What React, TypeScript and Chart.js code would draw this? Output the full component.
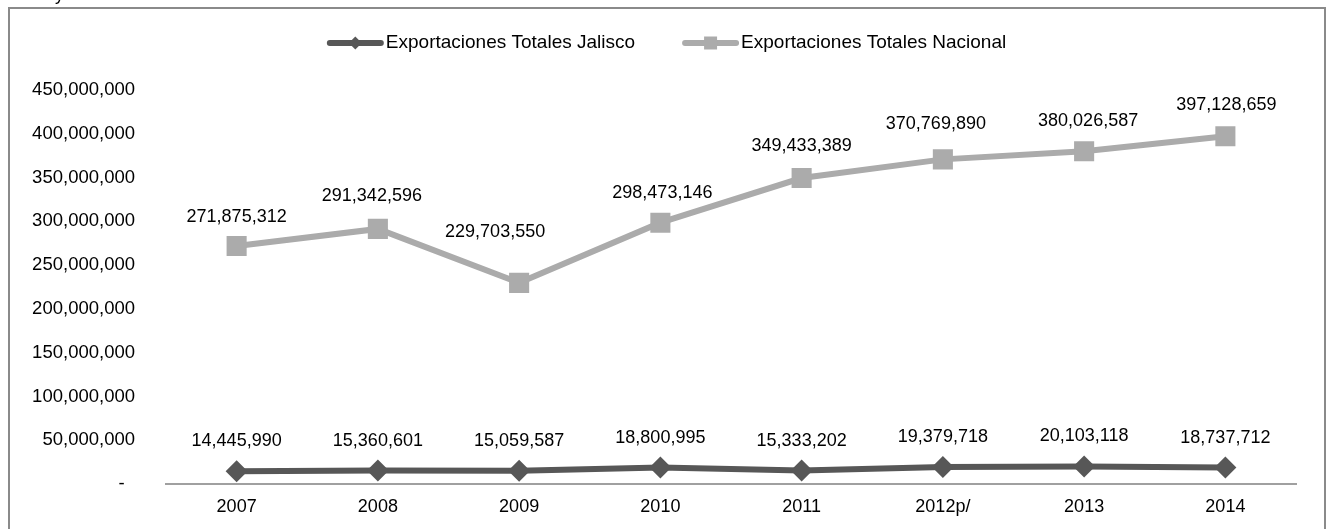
import React, { useEffect, useRef } from 'react';
import { Chart, registerables } from 'chart.js';

Chart.register(...registerables);

const categories = ['2007', '2008', '2009', '2010', '2011', '2012p/', '2013', '2014'];
const jalisco = [14445990, 15360601, 15059587, 18800995, 15333202, 19379718, 20103118, 18737712];
const nacional = [271875312, 291342596, 229703550, 298473146, 349433389, 370769890, 380026587, 397128659];
const seriesNames = ['Exportaciones Totales Jalisco', 'Exportaciones Totales Nacional'];
const yMin = 0;
const yMax = 450000000;
const yStep = 50000000;
const zeroTickLabel = '-';

// label placement tweaks (pixels)
const nacionalLabelDx = [0, -6, -24, 2, 0, -7, 4, 1];
const nacionalLabelDy = [-29, -33, -51, -30, -32, -35, -30, -31];
const jaliscoLabelDy = -30;

const FONT = "'Liberation Sans', Arial, sans-serif";
const DARK = '#575757';
const LIGHT = '#ABABAB';

const fmt = (v: number) => v.toLocaleString('en-US');

const dataLabelPlugin = {
  id: 'dataLabels',
  afterDatasetsDraw(chart: any) {
    const ctx = chart.ctx;
    ctx.save();
    ctx.font = `18px ${FONT}`;
    ctx.fillStyle = '#000';
    ctx.textAlign = 'center';
    ctx.textBaseline = 'middle';
    chart.data.datasets.forEach((ds: any, di: number) => {
      const meta = chart.getDatasetMeta(di);
      meta.data.forEach((pt: any, i: number) => {
        const v = ds.data[i] as number;
        let dx = 0;
        let dy = jaliscoLabelDy;
        if (di === 1) {
          dx = nacionalLabelDx[i];
          dy = nacionalLabelDy[i];
        }
        ctx.fillText(fmt(v), pt.x + dx, pt.y + dy);
      });
    });
    ctx.restore();
  },
};

const legendPlugin = {
  id: 'customLegend',
  afterDraw(chart: any) {
    const ctx = chart.ctx;
    ctx.save();
    ctx.font = `19px ${FONT}`;
    const lineLen = 55;
    const gap = 3;
    const itemGap = 48;
    const widths = seriesNames.map((n) => ctx.measureText(n).width);
    const total = widths.reduce((a, w) => a + lineLen + gap + w, 0) + itemGap * (seriesNames.length - 1);
    let x = chart.width / 2 - total / 2;
    const y = 34;
    chart.data.datasets.forEach((ds: any, i: number) => {
      ctx.strokeStyle = ds.borderColor;
      ctx.lineWidth = 6;
      ctx.lineCap = 'round';
      ctx.beginPath();
      ctx.moveTo(x + 2, y);
      ctx.lineTo(x + lineLen - 2, y);
      ctx.stroke();
      ctx.fillStyle = ds.borderColor;
      const cx = x + lineLen / 2;
      ctx.beginPath();
      if (i === 0) {
        const r = 6.5;
        ctx.moveTo(cx - r, y);
        ctx.lineTo(cx, y - r);
        ctx.lineTo(cx + r, y);
        ctx.lineTo(cx, y + r);
        ctx.closePath();
      } else {
        const s = 6.5;
        ctx.rect(cx - s, y - s, 2 * s, 2 * s);
      }
      ctx.fill();
      ctx.fillStyle = '#000';
      ctx.textAlign = 'left';
      ctx.textBaseline = 'middle';
      ctx.fillText(seriesNames[i], x + lineLen + gap, y);
      x += lineLen + gap + widths[i] + itemGap;
    });
    ctx.restore();
  },
};

export default function App() {
  const ref = useRef<HTMLCanvasElement | null>(null);

  useEffect(() => {
    document.documentElement.style.overflow = 'hidden';
    document.body.style.overflow = 'hidden';
    if (!ref.current) return;
    const chart = new Chart(ref.current, {
      type: 'line',
      data: {
        labels: categories,
        datasets: [
          {
            label: seriesNames[0],
            data: jalisco,
            borderColor: DARK,
            backgroundColor: DARK,
            borderWidth: 6,
            pointStyle: 'rectRot',
            pointRadius: 11,
            pointHoverRadius: 11,
            pointBorderWidth: 0,
            tension: 0,
          },
          {
            label: seriesNames[1],
            data: nacional,
            borderColor: LIGHT,
            backgroundColor: LIGHT,
            borderWidth: 6,
            pointStyle: 'rect',
            pointRadius: 14.2,
            pointHoverRadius: 14.2,
            pointBorderWidth: 0,
            tension: 0,
          },
        ],
      },
      options: {
        responsive: false,
        animation: false,
        devicePixelRatio: 1,
        layout: { padding: { top: 81, right: 28, left: 0, bottom: 0 } },
        plugins: {
          legend: { display: false },
          tooltip: { enabled: false },
          title: { display: false },
        },
        scales: {
          x: {
            type: 'category',
            offset: true,
            grid: { display: false, drawTicks: false },
            border: { display: true, color: '#A0A0A0', width: 2 },
            ticks: {
              color: '#000',
              font: { family: FONT, size: 18 },
              padding: 12,
              maxRotation: 0,
              autoSkip: false,
            },
            afterFit(scale: any) {
              scale.height = 45;
            },
          },
          y: {
            min: yMin,
            max: yMax,
            grid: { display: false, drawTicks: false },
            border: { display: false },
            ticks: {
              stepSize: yStep,
              color: '#000',
              font: { family: FONT, size: 18.5 },
              padding: 31,
              callback: (v: any) => (Number(v) === 0 ? zeroTickLabel + '  ' : fmt(Number(v))),
            },
            afterFit(scale: any) {
              scale.width = 156;
            },
          },
        },
      },
      plugins: [dataLabelPlugin, legendPlugin],
    });
    return () => chart.destroy();
  }, []);

  return (
    <div>
      <div
        style={{
          position: 'fixed',
          left: 55,
          top: -16,
          fontFamily: FONT,
          fontSize: 18,
          color: '#000',
        }}
      >
        y
      </div>
      <div
        style={{
          position: 'fixed',
          left: 8,
          top: 7,
          width: 1314,
          height: 560,
          border: '2px solid #8A8A8A',
          background: '#fff',
        }}
      >
        <canvas ref={ref} width={1314} height={520} style={{ display: 'block' }} />
      </div>
    </div>
  );
}
